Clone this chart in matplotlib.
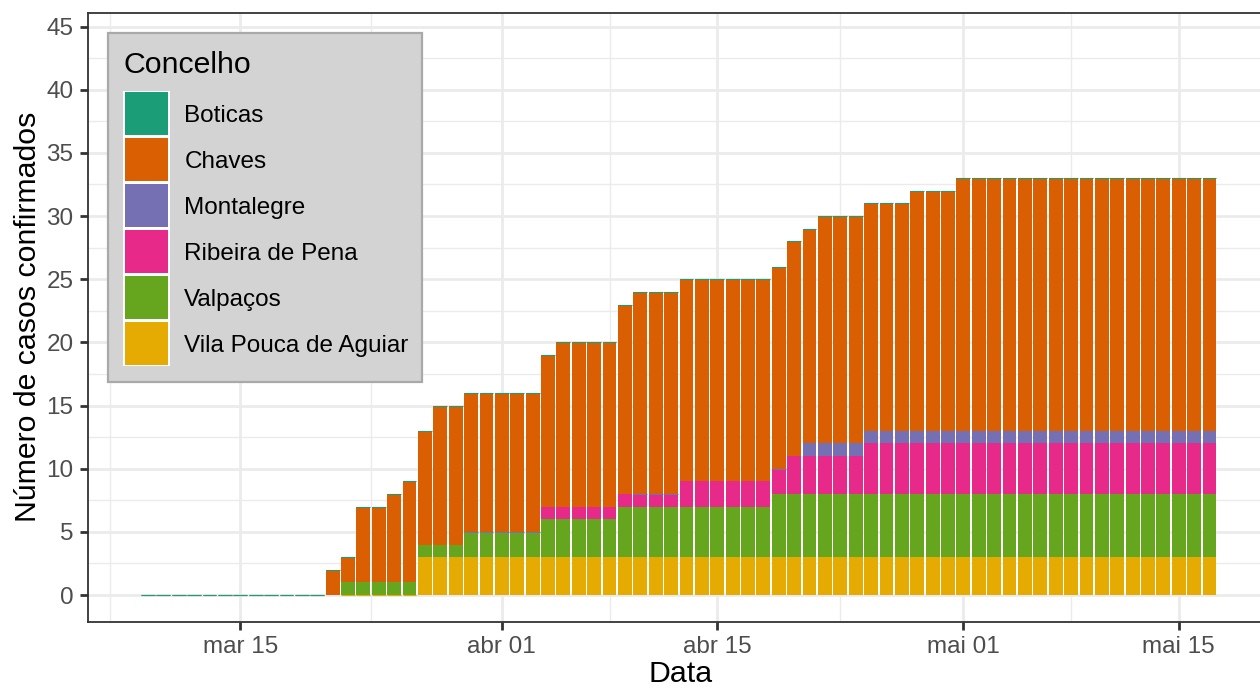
import matplotlib
matplotlib.use("Agg")
import matplotlib.pyplot as plt
import matplotlib.dates as mdates
from matplotlib.patches import Rectangle
import numpy as np
import pandas as pd

plt.rcParams['font.family'] = ['Liberation Sans', 'DejaVu Sans']

# ---------------- data ----------------
dates = pd.date_range("2020-03-09", "2020-05-17", freq="D")
N = None
concelhos = ["Boticas", "Chaves", "Montalegre", "Ribeira de Pena", "Valpaços", "Vila Pouca de Aguiar"]
colors = ["#1B9E77", "#D95F02", "#7570B3", "#E7298A", "#66A61E", "#E6AB02"]

boticas = [0] * 70
chaves = ([0] * 12 + [2, 2, 6, 6, 7, 8, 9, 11, 11] + [11] * 5 + [12] + [13] * 4 + [15]
          + [16] * 3 + [16] * 6 + [16, 17, 17] + [18] * 3 + [18] * 3 + [19] * 3 + [20] * 17)
montalegre = ([N] * 21 + [0] * 5 + [N] * 6 + [0] * 3 + [N] * 6 + [0, N] + [1] * 27)
ribeira = ([N] * 26 + [1] * 9 + [2] * 7 + [3] * 5 + [4] * 23)
valpacos = ([N] * 13 + [1] * 8 + [2] * 5 + [3] * 5 + [4] * 10 + [5] * 29)
vila_pouca = ([N] * 13 + [0] * 5 + [3] * 52)

series = {"Boticas": boticas, "Chaves": chaves, "Montalegre": montalegre,
          "Ribeira de Pena": ribeira, "Valpaços": valpacos, "Vila Pouca de Aguiar": vila_pouca}

x_ticks = ["2020-03-15", "2020-04-01", "2020-04-15", "2020-05-01", "2020-05-15"]
x_ticklabels = ["mar 15", "abr 01", "abr 15", "mai 01", "mai 15"]
x_minor = ["2020-03-06 12:00", "2020-03-23 12:00", "2020-04-08 00:00", "2020-04-23 00:00", "2020-05-08 00:00"]
y_ticks = [0, 5, 10, 15, 20, 25, 30, 35, 40, 45]

# ---------------- figure ----------------
W, H = 1260, 689
fig = plt.figure(figsize=(W / 100, H / 100), dpi=100)
left_px, right_px, top_px, bot_px = 87.7, 1269.5, 12.7, 621.7
ax = fig.add_axes([left_px / W, (H - bot_px) / H, (right_px - left_px) / W, (bot_px - top_px) / H])

xnum = mdates.date2num(dates)
bottom = np.zeros(len(dates))
for name, col in zip(reversed(concelhos), reversed(colors)):
    raw = series[name]
    vals = np.array([0.0 if v is None else float(v) for v in raw])
    present_zero = np.array([(v is not None) and v == 0 for v in raw])
    nz = vals > 0
    ax.bar(xnum[nz], vals[nz], width=0.9, bottom=bottom[nz], color=col,
           linewidth=0, zorder=2)
    if present_zero.any():
        ax.bar(xnum[present_zero], np.zeros(present_zero.sum()), width=0.9,
               bottom=bottom[present_zero], color=col, edgecolor=col,
               linewidth=0.8, zorder=2.5)
    bottom = bottom + vals

m15 = mdates.date2num(pd.Timestamp("2020-03-15"))
ma15 = mdates.date2num(pd.Timestamp("2020-05-15"))
ax.set_xlim(m15 - 9.92, ma15 + 5.9)
ax.set_ylim(-2.11, 46.1)

ax.set_xticks([mdates.date2num(pd.Timestamp(d)) for d in x_ticks])
ax.set_xticklabels(x_ticklabels)
ax.set_xticks([mdates.date2num(pd.Timestamp(d)) for d in x_minor], minor=True)
ax.set_yticks(y_ticks)
ax.set_yticklabels([str(v) for v in y_ticks])
ax.set_yticks([v + 2.5 for v in y_ticks[:-1]], minor=True)

ax.grid(which="major", color="#EBEBEB", linewidth=2.0)
ax.grid(which="minor", color="#EBEBEB", linewidth=1.0)
ax.set_axisbelow(True)

ax.tick_params(which="major", length=5.5, width=2.0, color="#333333",
               labelsize=17.45, labelcolor="#4D4D4D")
ax.tick_params(axis="x", which="major", pad=5)
ax.tick_params(axis="y", which="major", pad=4.8)
ax.tick_params(which="minor", length=0)
for s in ax.spines.values():
    s.set_color("#333333")
    s.set_linewidth(1.3)

# ---------------- overlay for titles and legend ----------------
ov = fig.add_axes([0, 0, 1, 1], zorder=5)
ov.set_xlim(0, W)
ov.set_ylim(H, 0)
ov.axis("off")

ov.text(681, 682.5, "Data", ha="center", va="baseline", fontsize=21.8, color="black")
ov.text(36, (top_px + bot_px) / 2, "Número de casos confirmados", ha="center", va="baseline",
        rotation=90, rotation_mode="anchor", fontsize=21.8, color="black")

ov.add_patch(Rectangle((108, 33.3), 313.7, 348.4, facecolor="#D3D3D3", edgecolor="#A9A9A9",
                       linewidth=1.6))
ov.text(123.3, 73.3, "Concelho", ha="left", va="baseline", fontsize=21.8, color="black")
key_top, key_h = 90.7, 45.9
ov.add_patch(Rectangle((123.3, key_top), 46.7, key_h * 6, facecolor="white", edgecolor="none"))
for i, (name, col) in enumerate(zip(concelhos, colors)):
    y0 = key_top + i * key_h
    ov.add_patch(Rectangle((125.0, y0 + 1.6), 43.3, key_h - 3.2, facecolor=col, edgecolor="none"))
    ov.text(184.3, y0 + key_h / 2 + 8.8, name, ha="left", va="baseline", fontsize=17.45, color="black")

fig.savefig("out.png", dpi=100)
